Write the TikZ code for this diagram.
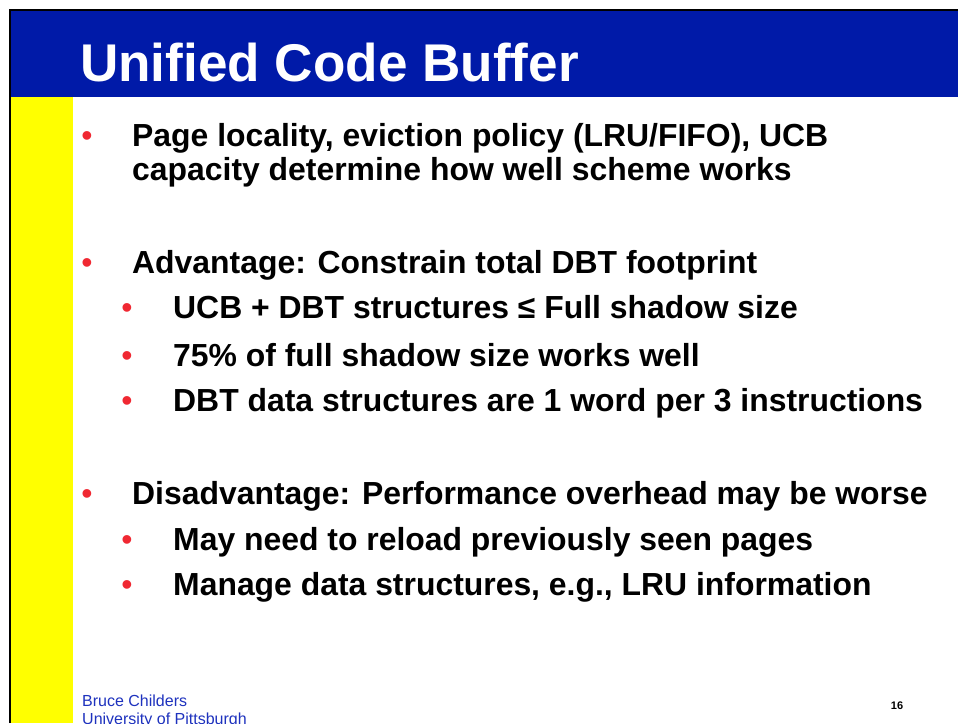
\documentclass[tikz,border=0pt]{standalone}
\usepackage{fontspec}
\setmainfont{Liberation Sans}
\definecolor{titleblue}{RGB}{0,26,168}
\definecolor{barYellow}{RGB}{255,255,0}
\definecolor{bulletred}{RGB}{240,40,50}
\definecolor{footblue}{RGB}{30,50,190}
\tikzset{
  body/.style={anchor=base west, inner sep=0pt, font=\fontsize{31.9}{38}\selectfont\bfseries},
  dot/.style={anchor=base, inner sep=0pt, text=bulletred, font=\fontsize{32}{38}\selectfont},
  foot/.style={anchor=base west, inner sep=0pt, text=footblue, font=\fontsize{16}{19}\selectfont}
}
\begin{document}
\begin{tikzpicture}[x=1pt,y=-1pt]
\useasboundingbox (0,0) rectangle (958,723);
\fill[white] (0,0) rectangle (958,723);
% title band, side bar and frame
\fill[titleblue] (10,10) rectangle (958,97);
\fill[barYellow] (10,97) rectangle (73,723);
\draw[black, line width=2pt] (10,723) -- (10,10) -- (958,10);
\node[anchor=base west, inner sep=0pt, text=white,
      font=\fontsize{53.1}{60}\selectfont\bfseries] (title) at (80,81) {Unified Code Buffer};
% first-level items
\node[dot] (b1) at (87,146) {•};
\node[body] (t1a) at (132,146) {Page locality, eviction policy (LRU/FIFO), UCB};
\node[body] (t1b) at (132,180) {capacity determine how well scheme works};
\node[dot] (b2) at (87,273) {•};
\node[body] (t2) at (132,273) {Advantage: Constrain total DBT footprint};
\node[dot] (b21) at (127,318) {•};
\node[body] (t21) at (173,318) {UCB + DBT structures ≤ Full shadow size};
\node[dot] (b22) at (127,366) {•};
\node[body] (t22) at (173,366) {75\% of full shadow size works well};
\node[dot] (b23) at (127,411) {•};
\node[body] (t23) at (173,411) {DBT data structures are 1 word per 3 instructions};
\node[dot] (b3) at (87,504) {•};
\node[body] (t3) at (132,504) {Disadvantage: Performance overhead may be worse};
\node[dot] (b31) at (127,550) {•};
\node[body] (t31) at (173,550) {May need to reload previously seen pages};
\node[dot] (b32) at (127,595) {•};
\node[body] (t32) at (173,595) {Manage data structures, e.g., LRU information};
% footer
\node[foot] (author) at (82,706) {Bruce Childers};
\node[foot] (inst) at (82,724) {University of Pittsburgh};
\node[anchor=base, inner sep=0pt, font=\fontsize{11}{13}\selectfont\bfseries] (pg) at (897,709) {16};
\end{tikzpicture}
\end{document}
